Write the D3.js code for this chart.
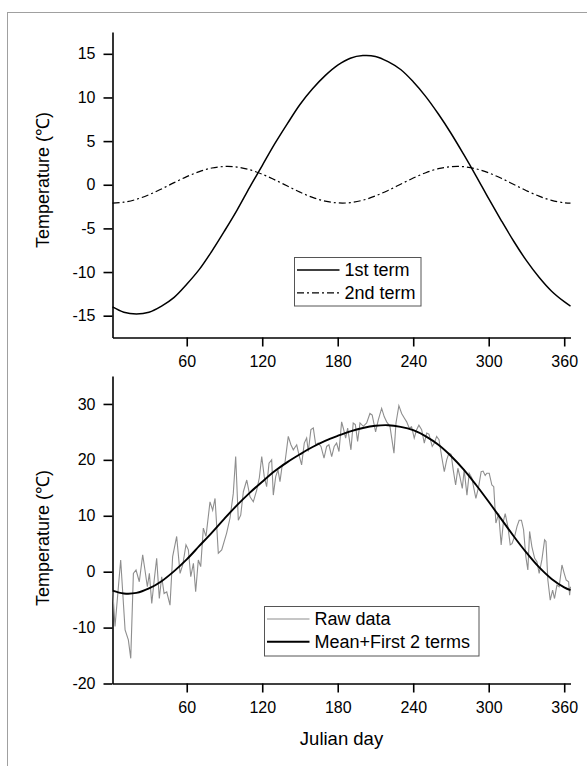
<!DOCTYPE html>
<html>
<head>
<meta charset="utf-8">
<script src="https://cdn.jsdelivr.net/npm/d3@7"></script>
<style>
  body { margin: 0; background: #fff; }
  svg text { font-family: Arial, "Liberation Sans", sans-serif; fill: #000; }
  .axis path, .axis line { stroke: #000; stroke-width: 1.6; }
  .axis text { font-size: 16px; }
</style>
</head>
<body>
<svg width="587" height="766"></svg>
<script>
// days the smooth curves were read at
var termDays = [1, 10, 20, 30, 40, 50, 60, 70, 80, 90, 100, 110, 120, 130, 140, 150, 160, 170, 180,
  190, 200, 210, 220, 230, 240, 250, 260, 270, 280, 290, 300, 310, 320, 330, 340, 350, 360, 365];

var term1 = [-14.0, -14.6, -14.8, -14.6, -13.9, -12.9, -11.4, -9.7, -7.6, -5.3, -2.9, -0.3, 2.2, 4.7,
  7.0, 9.2, 11.0, 12.5, 13.7, 14.5, 14.8, 14.7, 14.1, 13.2, 11.8, 10.1, 8.1, 5.9, 3.5, 1.0, -1.6,
  -4.1, -6.5, -8.7, -10.6, -12.2, -13.4, -13.9];

var term2 = [-2.1, -2.0, -1.67, -1.14, -0.48, 0.24, 0.93, 1.51, 1.92, 2.09, 2.03, 1.72, 1.21, 0.56,
  -0.15, -0.85, -1.45, -1.88, -2.08, -2.05, -1.77, -1.28, -0.65, 0.06, 0.77, 1.38, 1.84, 2.07, 2.07,
  1.82, 1.36, 0.74, 0.03, -0.68, -1.31, -1.79, -2.06, -2.1];

var fitted = [-3.4, -3.9, -3.8, -3.0, -1.7, 0.1, 2.2, 4.6, 7.0, 9.5, 11.9, 14.1, 16.1, 18.0, 19.6,
  21.0, 22.3, 23.4, 24.3, 25.1, 25.7, 26.1, 26.2, 25.9, 25.3, 24.2, 22.7, 20.7, 18.3, 15.5, 12.5,
  9.4, 6.3, 3.4, 0.8, -1.3, -2.8, -3.3];

// raw daily temperature, read at the visible turning points
var rawDays = [1.2, 3, 7.5, 11, 13.6, 15.5, 17.6, 19.7, 22.3, 25, 26.8, 28.7, 30.3, 32.2, 34, 36.1,
  38.2, 40.1, 42, 44.1, 46.7, 48.8, 52, 54.7, 56.8, 59.4, 61.3, 63.2, 65.3, 67.1, 69.2, 71.1, 73.2,
  75.3, 78.5, 80.6, 82.5, 85.1, 87.8, 91.7, 94.4, 97, 98.9, 101, 102.9, 105, 107.7, 110.3, 112.9,
  115.6, 117.7, 119.6, 121.6, 123.5, 125.4, 127.5, 128.8, 130.7, 132.5, 134.1, 135.9, 138, 140.7,
  142.8, 144.7, 147.4, 149.2, 151.3, 153.4, 155.3, 156.6, 158.7, 160.6, 162.5, 164.5, 166.7, 169.1,
  171.2, 173, 175.2, 177.2, 179.1, 181, 183.1, 184.4, 186.3, 187.9, 190.5, 192.3, 194, 195.8, 197.7,
  200.3, 203, 205.6, 207.4, 210.1, 212.2, 214.9, 217, 218.9, 221.5, 224.7, 226.3, 228.6, 230.8,
  232.9, 234.8, 236.8, 238.7, 240.8, 242.7, 244.5, 246.7, 248.8, 250.7, 252.5, 255.1, 256.8, 258.6,
  260.5, 262.6, 264.7, 266.6, 268.4, 270.1, 271.8, 273.7, 275.5, 277.1, 279, 280.5, 282.7, 284.5,
  286.5, 289.8, 292, 294, 295.5, 297.2, 298.5, 300.4, 302.5, 304, 305.7, 307.9, 309.9, 311.8, 313.1,
  315.2, 317.1, 318.5, 320.6, 322.5, 324.2, 326, 327.7, 329.5, 331.1, 332.5, 334.3, 336.5, 338.3,
  340.1, 342.3, 344.4, 345.5, 347, 348.9, 350.8, 352.3, 354.2, 356, 358.2, 360, 361.6, 363.5, 364.3, 365];

var rawTemps = [-3.3, -9.8, 2.1, -10.4, -12.2, -15.5, -0.3, 0.3, -1.8, 3.0, 0.3, -2.7, -0.3, -5.7, -1.8,
  2.4, -4.8, -0.9, -3.9, -3.6, -6.0, 2.7, 6.3, -0.3, 1.2, 4.8, 3.9, -0.9, 1.5, -3.6, 2.1, 0.9, 7.8,
  6.3, 12.5, 11.0, 13.1, 3.3, 3.9, 6.9, 9.6, 14.0, 20.6, 9.2, 10.1, 14.3, 16.4, 13.4, 12.5,
  14.6, 16.8, 20.6, 17.0, 15.2, 19.4, 20.0, 13.7, 17.0, 18.2, 16.1, 19.1, 19.4, 24.2,
  22.7, 21.8, 22.7, 20.9, 19.1, 23.0, 23.9, 21.5, 25.4, 25.7, 22.7, 23.0, 22.4, 20.3,
  22.4, 22.7, 20.6, 22.4, 23.0, 21.5, 26.8, 25.7, 23.9, 25.7, 21.8, 26.6, 26.3, 23.3, 26.6,
  26.0, 26.6, 28.3, 28.0, 25.0, 27.1, 29.2, 27.7, 26.8, 26.0, 21.2, 26.6, 29.7, 28.3,
  27.5, 26.8, 25.7, 25.9, 23.9, 25.4, 26.2, 25.4, 23.0, 24.8, 24.6, 22.4, 23.0, 24.2,
  23.6, 20.6, 17.9, 20.0, 21.2, 21.0, 18.2, 15.5, 18.5, 17.0, 14.9, 18.2, 13.7, 17.6,
  16.8, 13.1, 15.2, 17.9, 18.0, 17.2, 17.6, 17.6, 15.5, 15.2, 8.7, 10.4, 4.8, 9.2, 10.4,
  8.1, 4.8, 5.0, 6.3, 8.1, 9.2, 9.2, 7.5, 2.7, 0.3, 7.2, 4.5, 2.4, 1.8,
  -0.3, 2.2, 5.7, 5.4, -1.5, -5.1, -3.3, -4.8, -2.4, -2.7, 1.2, -0.3, -1.5, -1.8, -4.2, -2.7];

var dayTicks = [60, 120, 180, 240, 300, 360];
var topTicks = [15, 10, 5, 0, -5, -10, -15];
var bottomTicks = [30, 20, 10, 0, -10, -20];

var svg = d3.select('svg');

// grey frame round the figure (only left and top edges are inside the picture)
svg.append('rect')
  .attr('x', 7.5).attr('y', 12.5)
  .attr('width', 640).attr('height', 800)
  .attr('fill', 'none')
  .attr('stroke', '#a0a0a0')
  .attr('stroke-width', 1);

var x = d3.scaleLinear().domain([1, 365]).range([112.5, 570.5]);
var yTop = d3.scaleLinear().domain([-17.5, 17.5]).range([337.5, 32]);
var yBot = d3.scaleLinear().domain([-20, 35]).range([683.5, 376]);

function drawAxes(y, ticks, axisY) {
  svg.append('g')
    .attr('class', 'axis')
    .attr('transform', `translate(0, ${axisY})`)
    .call(d3.axisBottom(x).tickValues(dayTicks).tickSize(9).tickSizeOuter(0).tickPadding(9));

  svg.append('g')
    .attr('class', 'axis')
    .attr('transform', `translate(${x.range()[0]}, 0)`)
    .call(d3.axisLeft(y).tickValues(ticks).tickSize(9).tickSizeOuter(0).tickPadding(8)
      .tickFormat((d) => String(d)));
}

drawAxes(yTop, topTicks, 337.5);
drawAxes(yBot, bottomTicks, 683.5);

// top panel curves
var lineTop = d3.line()
  .x((d, i) => x(termDays[i]))
  .y((d) => yTop(d))
  .curve(d3.curveCatmullRom);

svg.append('path')
  .attr('d', lineTop(term1))
  .attr('fill', 'none')
  .attr('stroke', '#000')
  .attr('stroke-width', 1.5);

svg.append('path')
  .attr('d', lineTop(term2))
  .attr('fill', 'none')
  .attr('stroke', '#000')
  .attr('stroke-width', 1.2)
  .attr('stroke-dasharray', '7,3,2,3');

// bottom panel curves
var lineRaw = d3.line()
  .x((d, i) => x(rawDays[i]))
  .y((d) => yBot(d));

svg.append('path')
  .attr('d', lineRaw(rawTemps))
  .attr('fill', 'none')
  .attr('stroke', '#8e8e8e')
  .attr('stroke-width', 1.1);

var lineFit = d3.line()
  .x((d, i) => x(termDays[i]))
  .y((d) => yBot(d))
  .curve(d3.curveCatmullRom);

svg.append('path')
  .attr('d', lineFit(fitted))
  .attr('fill', 'none')
  .attr('stroke', '#000')
  .attr('stroke-width', 1.9);

// axis titles
svg.append('text')
  .attr('transform', 'translate(43, 180) rotate(-90)')
  .attr('text-anchor', 'middle')
  .attr('dominant-baseline', 'central')
  .style('font-size', '18px')
  .text('Temperature (℃)');

svg.append('text')
  .attr('transform', 'translate(43, 538) rotate(-90)')
  .attr('text-anchor', 'middle')
  .attr('dominant-baseline', 'central')
  .style('font-size', '18px')
  .text('Temperature (℃)');

svg.append('text')
  .attr('x', 341.5)
  .attr('y', 738)
  .attr('text-anchor', 'middle')
  .attr('dominant-baseline', 'central')
  .style('font-size', '18.5px')
  .text('Julian day');

// legends
function legend(x0, y0, w, h, items) {
  var g = svg.append('g');
  g.append('rect')
    .attr('x', x0).attr('y', y0)
    .attr('width', w).attr('height', h)
    .attr('fill', '#fff')
    .attr('stroke', '#555')
    .attr('stroke-width', 1);
  items.forEach(function (it, i) {
    var cy = y0 + 12.5 + i * 22.8;
    g.append('line')
      .attr('x1', x0 + 2.5).attr('x2', x0 + it.len)
      .attr('y1', cy).attr('y2', cy)
      .attr('stroke', it.color)
      .attr('stroke-width', it.width)
      .attr('stroke-dasharray', it.dash || null);
    g.append('text')
      .attr('x', x0 + it.len + 5)
      .attr('y', cy)
      .attr('dominant-baseline', 'central')
      .style('font-size', '18px')
      .text(it.label);
  });
}

legend(294.5, 257.5, 126.5, 48.5, [
  {label: '1st term', color: '#000', width: 1.5, len: 45},
  {label: '2nd term', color: '#000', width: 1.2, len: 45, dash: '7,3,2,3'}
]);

legend(264.5, 606.5, 214.5, 49.5, [
  {label: 'Raw data', color: '#8e8e8e', width: 1.1, len: 45},
  {label: 'Mean+First 2 terms', color: '#000', width: 1.9, len: 45}
]);
</script>
</body>
</html>
